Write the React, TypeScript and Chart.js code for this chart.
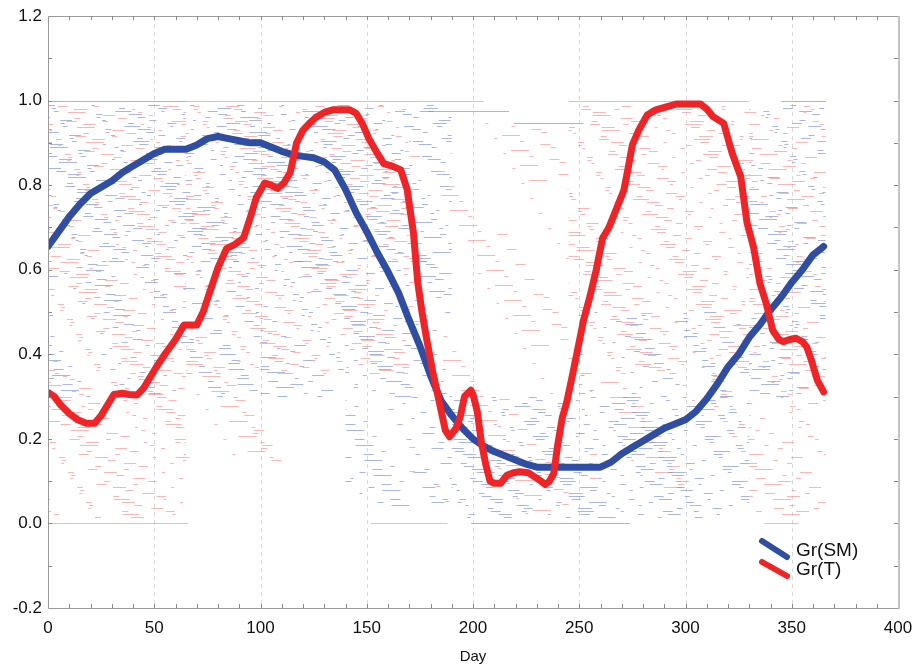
import React, { useEffect, useRef } from "react";
import { Chart, registerables } from "chart.js";

Chart.register(...registerables);

// ---- data ----
const smDays = [0,5,10,15,20,25,30,35,40,45,50,55,60,65,70,75,80,85,90,95,100,105,110,115,120,125,130,135,140,145,150,155,160,165,170,175,180,185,190,195,200,205,210,215,220,225,230,235,240,245,250,255,260,265,270,275,280,285,290,295,300,305,310,315,320,325,330,335,340,345,350,355,360,365];
const smValues = [0.655,0.69,0.725,0.755,0.78,0.795,0.81,0.83,0.845,0.86,0.875,0.885,0.885,0.885,0.895,0.91,0.915,0.91,0.905,0.9,0.9,0.89,0.88,0.872,0.868,0.865,0.855,0.835,0.79,0.735,0.69,0.64,0.595,0.545,0.48,0.42,0.35,0.29,0.255,0.225,0.2,0.183,0.17,0.16,0.15,0.14,0.133,0.133,0.133,0.133,0.133,0.133,0.133,0.145,0.165,0.18,0.195,0.21,0.225,0.235,0.245,0.265,0.295,0.33,0.37,0.4,0.44,0.47,0.505,0.535,0.57,0.6,0.635,0.655];

const tDays = [0,3,6,10,14,18,22,25,28,31,35,38,42,45,48,51,55,60,64,70,73,76,80,84,88,92,95,98,102,105,108,111,114,117,120,123,126,130,134,142,145,148,151,155,158,162,166,169,172,174,176,178,181,184,187,189,192,194,196,199,200,202,204,206,208,210,213,216,219,222,226,229,232,234,236,238,240,242,244,247,250,252,255,258,261,264,266,271,273,275,278,282,286,291,296,307,310,313,318,320,322,326,329,332,335,338,341,344,346,349,352,355,357,359,362,365];
const tValues = [0.31,0.3,0.28,0.26,0.245,0.237,0.237,0.255,0.28,0.305,0.308,0.305,0.304,0.32,0.345,0.37,0.4,0.435,0.469,0.469,0.5,0.545,0.605,0.65,0.66,0.675,0.72,0.77,0.805,0.8,0.792,0.805,0.83,0.9,0.93,0.946,0.96,0.972,0.978,0.978,0.97,0.945,0.91,0.875,0.851,0.845,0.836,0.79,0.686,0.57,0.5,0.441,0.36,0.29,0.22,0.205,0.225,0.252,0.3,0.315,0.305,0.265,0.19,0.14,0.1,0.095,0.095,0.114,0.12,0.122,0.12,0.11,0.1,0.092,0.1,0.118,0.19,0.25,0.284,0.355,0.43,0.48,0.536,0.6,0.675,0.7,0.725,0.788,0.84,0.895,0.93,0.966,0.978,0.985,0.992,0.992,0.98,0.962,0.946,0.91,0.875,0.82,0.71,0.654,0.568,0.52,0.457,0.435,0.43,0.435,0.438,0.43,0.418,0.39,0.339,0.311];

const seriesLabels = ["Gr(SM)", "Gr(T)"];
const xTickStep = 50;
const yTickStep = 0.2;

// envelopes of the faint individual-year traces: [dayFrom, dayTo, low, high, density]
const smSpread = [
  [0, 190, 0.62, 0.99, 0.9],
  [0, 100, 0.3, 0.62, 0.45],
  [100, 190, 0.3, 0.62, 0.7],
  [140, 190, 0.04, 0.3, 0.5],
  [190, 330, 0.01, 0.3, 1.0],
  [250, 330, 0.3, 0.5, 0.45],
  [330, 366, 0.3, 0.99, 0.8],
];
const tSpread = [
  [0, 65, 0.01, 0.35, 0.8],
  [0, 65, 0.35, 0.99, 0.8],
  [65, 170, 0.35, 0.99, 0.9],
  [60, 110, 0.15, 0.35, 0.3],
  [170, 245, 0.02, 0.95, 0.22],
  [245, 330, 0.35, 0.99, 0.9],
  [255, 330, 0.08, 0.35, 0.3],
  [330, 366, 0.02, 0.99, 0.7],
];
// full-length faint traces at the limits: [series, value, dayFrom, dayTo]
const limitTraces = [
  [0, 1.0, 0, 66],
  [1, 1.0, 66, 205],
  [1, 1.0, 245, 330],
  [0, 1.0, 345, 366],
  [1, 0.0, 1, 66],
  [1, 0.0, 152, 188],
  [0, 0.0, 199, 274],
  [1, 0.0, 337, 353],
  [0, 0.976, 175, 217],
  [0, 0.947, 219, 252],
];

const FONT = "'Liberation Sans', Arial, Helvetica, sans-serif";
const BLUE = "#2f4ea2";
const RED = "#ee2427";
const FAINT = ["rgba(110,135,205,0.6)", "rgba(246,120,120,0.55)"];
const PATTERNS = [
  [7, 11, 3, 16, 12, 9, 4, 13],
  [14, 8, 4, 19, 6, 10, 9, 15],
  [3, 13, 10, 7, 5, 17, 16, 9],
  [9, 16, 6, 8, 13, 12, 3, 10],
  [5, 9, 18, 14, 4, 11, 8, 18],
];

function makePts(xs: number[], ys: number[]) {
  return xs.map((x, i) => ({ x, y: ys[i] }));
}

const backdropPlugin = {
  id: "backdrop",
  beforeDatasetsDraw(chart: any) {
    const { ctx, chartArea: a, scales } = chart;
    const xs = scales.x, ys = scales.y;
    ctx.save();
    // vertical dashed grid
    ctx.strokeStyle = "#d9d9d9";
    ctx.lineWidth = 1;
    ctx.setLineDash([4, 4]);
    for (let v = xTickStep; v < xs.max; v += xTickStep) {
      const px = Math.round(xs.getPixelForValue(v)) + 0.5;
      ctx.beginPath();
      ctx.moveTo(px, a.top);
      ctx.lineTo(px, a.bottom);
      ctx.stroke();
    }
    // faint traces
    const drawBands = (bands: number[][], color: string, phase: number) => {
      ctx.strokeStyle = color;
      ctx.lineWidth = 1;
      bands.forEach((b, bi) => {
        const [d1, d2, v1, v2, dens] = b;
        const p1 = xs.getPixelForValue(d1), p2 = xs.getPixelForValue(d2);
        const top = Math.round(ys.getPixelForValue(v2));
        const bot = ys.getPixelForValue(v1);
        let row = 0;
        for (let y = top + phase; y <= bot; y += 3) {
          const pat = PATTERNS[(row + bi + phase) % PATTERNS.length];
          ctx.setLineDash(pat.map((v, i) => (i % 2 ? v * 3.0 / dens : v)));
          ctx.lineDashOffset = ((row * 37 + bi * 13 + phase * 29) % 97);
          ctx.beginPath();
          ctx.moveTo(p1, y + 0.5);
          ctx.lineTo(p2, y + 0.5);
          ctx.stroke();
          row++;
        }
      });
    };
    drawBands(tSpread, FAINT[1], 1);
    drawBands(smSpread, FAINT[0], 0);
    ctx.setLineDash([]);
    limitTraces.forEach(([s, v, d1, d2]) => {
      ctx.strokeStyle = FAINT[s];
      const py = Math.round(ys.getPixelForValue(v)) + 0.5;
      ctx.beginPath();
      ctx.moveTo(xs.getPixelForValue(d1), py);
      ctx.lineTo(xs.getPixelForValue(d2), py);
      ctx.stroke();
    });
    ctx.restore();
  },
  afterDatasetsDraw(chart: any) {
    const { ctx, chartArea: a, scales } = chart;
    const xs = scales.x, ys = scales.y;
    ctx.save();
    ctx.setLineDash([]);
    // frame
    ctx.strokeStyle = "#9a9a9a";
    ctx.lineWidth = 1;
    ctx.beginPath();
    ctx.moveTo(a.left + 0.5, a.top);
    ctx.lineTo(a.left + 0.5, a.bottom + 0.5);
    ctx.lineTo(a.right, a.bottom + 0.5);
    ctx.moveTo(a.left, a.top + 0.5);
    ctx.lineTo(a.right, a.top + 0.5);
    ctx.stroke();
    ctx.strokeStyle = "#c4c4c4";
    ctx.lineWidth = 2;
    ctx.beginPath();
    ctx.moveTo(a.right + 1, a.top);
    ctx.lineTo(a.right + 1, a.bottom + 1);
    ctx.stroke();
    // inside ticks
    ctx.strokeStyle = "#8a8a8a";
    ctx.lineWidth = 1;
    ctx.beginPath();
    for (let v = 10; v < xs.max; v += 10) {
      const px = Math.round(xs.getPixelForValue(v)) + 0.5;
      ctx.moveTo(px, a.bottom);
      ctx.lineTo(px, a.bottom - 4);
      ctx.moveTo(px, a.top);
      ctx.lineTo(px, a.top + 4);
    }
    for (let k = 1; k < 14; k++) {
      const v = ys.min + k * 0.1;
      const py = Math.round(ys.getPixelForValue(v)) + 0.5;
      ctx.moveTo(a.left, py);
      ctx.lineTo(a.left + 4, py);
      ctx.moveTo(a.right, py);
      ctx.lineTo(a.right - 4, py);
    }
    ctx.stroke();
    // legend
    const items = [
      { label: seriesLabels[0], color: BLUE, dy: -67 },
      { label: seriesLabels[1], color: RED, dy: -46 },
    ];
    ctx.lineCap = "round";
    ctx.lineWidth = 6;
    ctx.font = `19px ${FONT}`;
    ctx.textBaseline = "middle";
    ctx.textAlign = "left";
    items.forEach((it, i) => {
      ctx.strokeStyle = it.color;
      ctx.beginPath();
      ctx.moveTo(a.right - 136, a.bottom + it.dy);
      ctx.lineTo(a.right - 111, a.bottom + it.dy + (i === 0 ? 16 : 14));
      ctx.stroke();
      ctx.fillStyle = "#111";
      ctx.fillText(it.label, a.right - 102, a.bottom + (i === 0 ? -57 : -38));
    });
    ctx.restore();
  },
};

export default function App() {
  const ref = useRef<HTMLCanvasElement | null>(null);
  useEffect(() => {
    if (!ref.current) return;
    const chart = new Chart(ref.current, {
      type: "line",
      data: {
        datasets: [
          {
            label: seriesLabels[1],
            data: makePts(tDays, tValues),
            borderColor: RED,
            borderWidth: 7,
            pointRadius: 0,
            borderCapStyle: "round",
            borderJoinStyle: "round",
            tension: 0,
          },
          {
            label: seriesLabels[0],
            data: makePts(smDays, smValues),
            borderColor: BLUE,
            borderWidth: 7,
            pointRadius: 0,
            borderCapStyle: "round",
            borderJoinStyle: "round",
            tension: 0,
          },
        ],
      },
      options: {
        animation: false,
        responsive: false,
        layout: { padding: { top: 16, right: 19, left: 0, bottom: 0 } },
        plugins: { legend: { display: false }, tooltip: { enabled: false } },
        scales: {
          x: {
            type: "linear",
            min: 0,
            max: 400,
            grid: { display: false, drawTicks: false },
            border: { display: false },
            ticks: {
              stepSize: xTickStep,
              padding: 10,
              color: "#111",
              font: { family: FONT, size: 17 },
              maxRotation: 0,
            },
            title: {
              display: true,
              text: "Day",
              color: "#111",
              font: { family: FONT, size: 15 },
              padding: { top: 2, bottom: 0 },
            },
            afterFit: (s: any) => {
              s.height = 58;
              s.paddingLeft = 0;
              s.paddingRight = 0;
            },
          },
          y: {
            min: -0.2,
            max: 1.2,
            grid: { display: false, drawTicks: false },
            border: { display: false },
            ticks: {
              stepSize: yTickStep,
              padding: 6,
              color: "#111",
              font: { family: FONT, size: 17 },
              callback: (v: any) => (Math.abs(Number(v)) < 1e-9 ? "0.0" : Number(v).toFixed(1)),
            },
            afterFit: (s: any) => {
              s.width = 48;
              s.paddingTop = 0;
              s.paddingBottom = 0;
            },
          },
        },
      },
      plugins: [backdropPlugin],
    });
    return () => chart.destroy();
  }, []);
  return (
    <div style={{ position: "fixed", left: 0, top: 0, width: 917, height: 666, background: "#fff" }}>
      <canvas ref={ref} width={917} height={666} />
    </div>
  );
}
